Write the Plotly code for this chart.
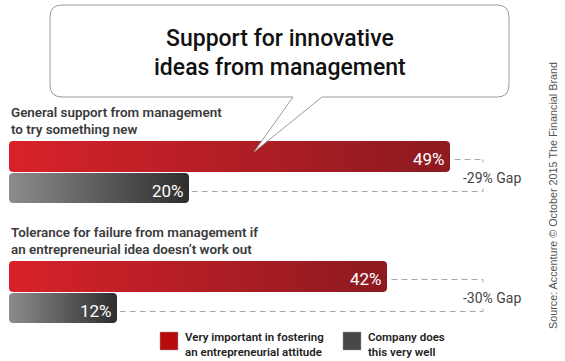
import math
import plotly.graph_objects as go

# ---------------- data ----------------
categories = [
    "General support from management<br>to try something new",
    "Tolerance for failure from management if<br>an entrepreneurial idea doesn’t work out",
]
important = [49, 42]        # Very important in fostering an entrepreneurial attitude
company = [20, 12]          # Company does this very well
gap_labels = ["-29% Gap", "-30% Gap"]
series_names = ["Very important in fostering<br>an entrepreneurial attitude",
                "Company does<br>this very well"]
title_lines = ["Support for innovative", "ideas from management"]
source_text = "Source: Accenture © October 2015 The Financial Brand"

# ---------------- layout constants ----------------
W, H = 565, 361
X0 = 9            # pixel of 0 %
PX_PER = 9        # pixels per 1 %
group_top = [141, 261]
bar_h = 31
bar_gap = 1
bracket_px = 483

RED_GRAD = [[0, "#d8222a"], [1, "#8c1a1f"]]
GRAY_GRAD = [[0, "#8c8c8c"], [1, "#2e2e2e"]]

TITLE_FONT = "Roboto, Liberation Sans, Arial, sans-serif"
SANS = "Roboto, Liberation Sans, Arial, sans-serif"


def X(px):
    return px / W


def Y(py):
    return 1 - py / H


def rrect(v, top, h, r=3.5, n=5):
    rx = r / PX_PER
    bot = top + h
    corners = [
        (v - rx, top + r, -90, 0),
        (v - rx, bot - r, 0, 90),
        (rx, bot - r, 90, 180),
        (rx, top + r, 180, 270),
    ]
    xs, ys = [], []
    for cx, cy, a0, a1 in corners:
        for i in range(n + 1):
            t = math.radians(a0 + (a1 - a0) * i / n)
            xs.append(cx + rx * math.cos(t))
            ys.append(cy + r * math.sin(t))
    xs.append(xs[0])
    ys.append(ys[0])
    return xs, ys


fig = go.Figure()

shapes = []
annotations = []

for gi, (cat, v_imp, v_com, gap) in enumerate(zip(categories, important, company, gap_labels)):
    top_r = group_top[gi]
    top_g = top_r + bar_h + bar_gap
    for v, top, grad in ((v_imp, top_r, RED_GRAD), (v_com, top_g, GRAY_GRAD)):
        xs, ys = rrect(v, top, bar_h if grad is RED_GRAD else bar_h - 1)
        fig.add_trace(go.Scatter(
            x=xs, y=ys, mode="lines", fill="toself",
            line=dict(width=0, color="rgba(0,0,0,0)"),
            fillgradient=dict(type="horizontal", colorscale=grad),
            hoverinfo="skip", showlegend=False,
        ))
        annotations.append(dict(
            x=v, y=top + bar_h / 2, xref="x", yref="y", xanchor="right", yanchor="middle",
            xshift=-3, yshift=-2, text=f"{v}%", showarrow=False,
            font=dict(family=SANS, size=17, color="white"),
        ))
    # category label
    annotations.append(dict(
        x=X(9), y=top_r - 20, xref="paper", yref="y", xanchor="left", yanchor="middle",
        align="left", text=cat, showarrow=False,
        font=dict(family=SANS, size=13.4, color="#3a3a3a", weight=600),
    ))
    # gap bracket
    xb = (bracket_px - X0) / PX_PER
    yr = top_r + bar_h / 2 + 3
    yg = top_g + bar_h / 2 + 3
    dash = dict(color="#a8a8a8", width=1, dash="6px,4px")
    shapes.append(dict(type="line", xref="x", yref="y", x0=v_imp + 0.5, x1=xb, y0=yr, y1=yr, line=dash))
    shapes.append(dict(type="line", xref="x", yref="y", x0=v_com + 0.3, x1=xb, y0=yg, y1=yg, line=dash))
    solid = dict(color="#a8a8a8", width=1)
    shapes.append(dict(type="line", xref="x", yref="y", x0=xb, x1=xb, y0=yr, y1=yr + 3, line=solid))
    shapes.append(dict(type="line", xref="x", yref="y", x0=xb, x1=xb, y0=yg - 3, y1=yg, line=solid))
    annotations.append(dict(
        x=X(492), y=(yr + yg) / 2 + 2, xref="paper", yref="y", xanchor="center", yanchor="middle",
        text=gap, showarrow=False, font=dict(family=SANS, size=14, color="#444444"),
    ))

# speech bubble
L, T, R, B, rr = 50, 5, 509, 97, 12
t1, t2, tip = (293, B), (322, B), (254, 152)
p = []
p.append(f"M {X(L + rr)} {Y(T)}")
p.append(f"L {X(R - rr)} {Y(T)}")
p.append(f"Q {X(R)} {Y(T)} {X(R)} {Y(T + rr)}")
p.append(f"L {X(R)} {Y(B - rr)}")
p.append(f"Q {X(R)} {Y(B)} {X(R - rr)} {Y(B)}")
p.append(f"L {X(t2[0])} {Y(B)}")
p.append(f"L {X(tip[0])} {Y(tip[1])}")
p.append(f"L {X(t1[0])} {Y(B)}")
p.append(f"L {X(L + rr)} {Y(B)}")
p.append(f"Q {X(L)} {Y(B)} {X(L)} {Y(B - rr)}")
p.append(f"L {X(L)} {Y(T + rr)}")
p.append(f"Q {X(L)} {Y(T)} {X(L + rr)} {Y(T)}")
p.append("Z")
shapes.append(dict(type="path", xref="paper", yref="paper", path=" ".join(p),
                   fillcolor="white", line=dict(color="#9a9a9a", width=1), layer="above"))

for line_text, yc in zip(title_lines, (38, 67)):
    annotations.append(dict(
        x=X(280), y=Y(yc), xref="paper", yref="paper", xanchor="center", yanchor="middle",
        text=line_text, showarrow=False,
        font=dict(family=TITLE_FONT, size=23, color="#111111", weight=500),
    ))

# legend
leg_colors = ["#b80c0c", "#474747"]
leg_x = [160, 343]
for name, col, lx in zip(series_names, leg_colors, leg_x):
    shapes.append(dict(type="rect", xref="paper", yref="paper", x0=X(lx), x1=X(lx + 18),
                       y0=Y(332), y1=Y(350), fillcolor=col, line=dict(color="#999999", width=0.5)))
    annotations.append(dict(
        x=X(lx + 23), y=Y(344.5), xref="paper", yref="paper", xanchor="left", yanchor="middle",
        align="left", text=name, showarrow=False,
        font=dict(family=SANS, size=11.5, color="#222222", weight=600),
    ))

# source
annotations.append(dict(
    x=X(553), y=Y(196), xref="paper", yref="paper", xanchor="center", yanchor="middle",
    text=source_text, textangle=-90, showarrow=False,
    font=dict(family="Liberation Sans, Arial, sans-serif", size=10.8, color="#555555"),
))

fig.update_layout(
    width=W, height=H, margin=dict(l=0, r=0, t=0, b=0),
    paper_bgcolor="white", plot_bgcolor="white",
    xaxis=dict(range=[-X0 / PX_PER, (W - X0) / PX_PER], visible=False, fixedrange=True),
    yaxis=dict(range=[H, 0], visible=False, fixedrange=True),
    shapes=shapes, annotations=annotations, showlegend=False,
)

fig.write_html("out.html")
